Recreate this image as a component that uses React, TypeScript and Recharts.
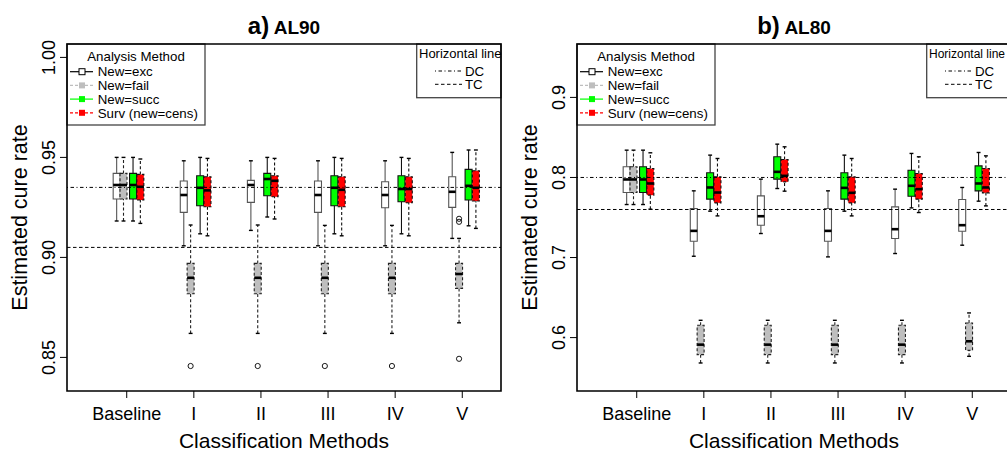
import React from 'react';
import {
  ComposedChart,
  XAxis,
  YAxis,
  ReferenceArea,
  ReferenceLine,
  Scatter,
  Customized,
} from 'recharts';

// ---------- data ----------
type Stats = [number, number, number, number, number]; // lower whisker, Q1, median, Q3, upper whisker

const categories = ['Baseline', 'I', 'II', 'III', 'IV', 'V'];
const categoryPositions = [1, 2, 3, 4, 5, 6];

// AL90
const al90Exc: Stats[] = [
  [0.9182, 0.9292, 0.9362, 0.942, 0.95],
  [0.9058, 0.9225, 0.9312, 0.9382, 0.9483],
  [0.9135, 0.9275, 0.9362, 0.9385, 0.9483],
  [0.9058, 0.9225, 0.9312, 0.9382, 0.9483],
  [0.9058, 0.9248, 0.9312, 0.9378, 0.9483],
  [0.9095, 0.925, 0.9328, 0.9403, 0.9525],
];
const al90Fail: Stats[] = [
  [0.9182, 0.9292, 0.9362, 0.942, 0.95],
  [0.862, 0.8818, 0.8898, 0.897, 0.9162],
  [0.862, 0.8818, 0.8898, 0.897, 0.9162],
  [0.862, 0.8818, 0.8898, 0.897, 0.916],
  [0.862, 0.8818, 0.8898, 0.897, 0.916],
  [0.8673, 0.8845, 0.8917, 0.897, 0.9095],
];
const al90Succ: Stats[] = [
  [0.9182, 0.9292, 0.9362, 0.942, 0.95],
  [0.9118, 0.9258, 0.9348, 0.9408, 0.95],
  [0.9202, 0.9308, 0.9392, 0.942, 0.95],
  [0.9118, 0.9258, 0.9348, 0.9408, 0.95],
  [0.9118, 0.9278, 0.9342, 0.9408, 0.95],
  [0.9158, 0.9287, 0.9358, 0.944, 0.9537],
];
const al90Cens: Stats[] = [
  [0.917, 0.9287, 0.9353, 0.9415, 0.9492],
  [0.9108, 0.9253, 0.9335, 0.9403, 0.9495],
  [0.9192, 0.9303, 0.9383, 0.9408, 0.9495],
  [0.9108, 0.9253, 0.9338, 0.9403, 0.9495],
  [0.9108, 0.9273, 0.9342, 0.9403, 0.9495],
  [0.9145, 0.9282, 0.9348, 0.9433, 0.9537],
];
// outlying estimates of New=fail, per category
const al90FailOutliers: number[][] = [[], [0.8457], [0.8457], [0.8457], [0.8457], [0.8493, 0.9178, 0.9193]];
const al90Dc = 0.935;
const al90Tc = 0.905;

// AL80
const al80Exc: Stats[] = [
  [0.7662, 0.7812, 0.7975, 0.8133, 0.8341],
  [0.7016, 0.7204, 0.7333, 0.7612, 0.7833],
  [0.73, 0.7404, 0.7516, 0.777, 0.7979],
  [0.7008, 0.7204, 0.7333, 0.7612, 0.7833],
  [0.705, 0.7237, 0.7354, 0.7633, 0.7854],
  [0.7154, 0.7329, 0.7404, 0.7725, 0.7875],
];
const al80Fail: Stats[] = [
  [0.7662, 0.7812, 0.7975, 0.8133, 0.8341],
  [0.5683, 0.5787, 0.5912, 0.6154, 0.6216],
  [0.5683, 0.5787, 0.5912, 0.6154, 0.6216],
  [0.5683, 0.5787, 0.5912, 0.6154, 0.6216],
  [0.5683, 0.5787, 0.5912, 0.6154, 0.6216],
  [0.5766, 0.5841, 0.5954, 0.6183, 0.6308],
];
const al80Succ: Stats[] = [
  [0.7662, 0.7812, 0.7975, 0.8133, 0.8341],
  [0.7579, 0.7729, 0.7875, 0.8058, 0.8279],
  [0.7862, 0.7979, 0.807, 0.8258, 0.8416],
  [0.7579, 0.7729, 0.787, 0.8058, 0.8279],
  [0.762, 0.7766, 0.7896, 0.8091, 0.83],
  [0.7704, 0.7833, 0.7925, 0.8145, 0.8312],
];
const al80Cens: Stats[] = [
  [0.7604, 0.7779, 0.7925, 0.8112, 0.8308],
  [0.752, 0.7683, 0.7812, 0.8008, 0.8237],
  [0.7829, 0.7945, 0.802, 0.8225, 0.8383],
  [0.752, 0.7683, 0.7808, 0.8008, 0.8237],
  [0.7562, 0.7729, 0.7854, 0.805, 0.8258],
  [0.7645, 0.7808, 0.7875, 0.8112, 0.827],
];
const al80FailOutliers: number[][] = [[], [], [], [], [], []];
const al80Dc = 0.8;
const al80Tc = 0.76;

const al90YTicks = [0.85, 0.9, 0.95, 1.0];
const al80YTicks = [0.6, 0.7, 0.8, 0.9];

// ---------- styling ----------
const FONT = '"Liberation Sans", Arial, Helvetica, sans-serif';
const X_DOMAIN: [number, number] = [0.11, 6.577];
const BOX_HALF = 0.052;
const CAP_HALF = 0.029;
const DASH = '3 2.2';
const DOTDASH = '1 2.5 3.5 2.5';
const TC_DASH = '3.5 2.5';

interface SeriesStyle {
  label: string;
  offset: number;
  fill: string;
  stroke: string;
  whisker: string;
  dash?: string;
  legendLine: string;
  legendDash?: string;
  markFill: string;
  markStroke: string;
}

const seriesStyles: SeriesStyle[] = [
  { label: 'New=exc', offset: -0.15, fill: '#ffffff', stroke: '#555555', whisker: '#555555', legendLine: '#000000', markFill: '#ffffff', markStroke: '#000000' },
  { label: 'New=fail', offset: -0.048, fill: '#bebebe', stroke: '#222222', whisker: '#222222', dash: DASH, legendLine: '#bebebe', legendDash: '3 2', markFill: '#bebebe', markStroke: 'none' },
  { label: 'New=succ', offset: 0.094, fill: '#00ff00', stroke: '#111111', whisker: '#111111', legendLine: '#00ff00', markFill: '#00ff00', markStroke: 'none' },
  { label: 'Surv (new=cens)', offset: 0.203, fill: '#ff0000', stroke: '#111111', whisker: '#111111', dash: DASH, legendLine: '#ff0000', legendDash: '3 2', markFill: '#ff0000', markStroke: 'none' },
];

function boxElements(stats: Stats, center: number, st: SeriesStyle, id: string) {
  const [lo, q1, med, q3, hi] = stats;
  const x1 = center - BOX_HALF;
  const x2 = center + BOX_HALF;
  return [
    <ReferenceLine key={id + '-wlo'} segment={[{ x: center, y: lo }, { x: center, y: q1 }]} stroke={st.whisker} strokeWidth={1.1} strokeDasharray={st.dash} ifOverflow="visible" />,
    <ReferenceLine key={id + '-whi'} segment={[{ x: center, y: q3 }, { x: center, y: hi }]} stroke={st.whisker} strokeWidth={1.1} strokeDasharray={st.dash} ifOverflow="visible" />,
    <ReferenceLine key={id + '-clo'} segment={[{ x: center - CAP_HALF, y: lo }, { x: center + CAP_HALF, y: lo }]} stroke="#000" strokeWidth={1.4} ifOverflow="visible" />,
    <ReferenceLine key={id + '-chi'} segment={[{ x: center - CAP_HALF, y: hi }, { x: center + CAP_HALF, y: hi }]} stroke="#000" strokeWidth={1.4} ifOverflow="visible" />,
    <ReferenceArea key={id + '-box'} x1={x1} x2={x2} y1={q1} y2={q3} fill={st.fill} fillOpacity={1} stroke={st.stroke} strokeWidth={1.1} strokeDasharray={st.dash} ifOverflow="visible" />,
    <ReferenceLine key={id + '-med'} segment={[{ x: x1, y: med }, { x: x2, y: med }]} stroke="#000" strokeWidth={2.6} ifOverflow="visible" />,
  ];
}

interface PanelProps {
  tag: string;
  name: string;
  width: number;
  yAxisWidth: number;
  rightMargin: number;
  yDomain: [number, number];
  yTicks: number[];
  digits: number;
  series: Stats[][];
  outliers: number[][];
  dc: number;
  tc: number;
  lineLegendTitleSize: number;
}

const TOP = 44;
const PLOT_BOTTOM = 391;
const HEIGHT = 452;

function Panel(p: PanelProps) {
  const plotLeft = p.yAxisWidth;
  const plotRight = p.width - p.rightMargin;
  const plotMid = (plotLeft + plotRight) / 2;

  const outlierPoints = p.outliers.flatMap((vals, i) =>
    vals.map((v) => ({ x: categoryPositions[i] + seriesStyles[1].offset, y: v })),
  );

  const xTick = (props: any) => (
    <text x={props.x} y={props.y + 20} textAnchor="middle" fontFamily={FONT} fontSize={18} fill="#000">
      {categories[categoryPositions.indexOf(props.payload.value)]}
    </text>
  );
  const yTick = (props: any) => (
    <text
      x={props.x}
      y={props.y}
      transform={`rotate(-90 ${props.x} ${props.y})`}
      textAnchor="middle"
      fontFamily={FONT}
      fontSize={18}
      fill="#000"
    >
      {Number(props.payload.value).toFixed(p.digits)}
    </text>
  );

  const legendW = 138;
  const legendH = 81;
  const hlLeft = plotRight - 84.3;

  const overlay = () => (
    <g fontFamily={FONT} fill="#000">
      {/* panel title */}
      <text x={plotMid} y={34} textAnchor="middle" fontWeight="bold">
        <tspan fontSize={24}>{p.tag}</tspan>
        <tspan fontSize={19}> {p.name}</tspan>
      </text>
      {/* axis titles */}
      <text x={plotMid} y={447.5} textAnchor="middle" fontSize={21}>Classification Methods</text>
      <text
        x={plotLeft - 40}
        y={217.5}
        transform={`rotate(-90 ${plotLeft - 40} 217.5)`}
        textAnchor="middle"
        fontSize={21.5}
      >
        Estimated cure rate
      </text>
      {/* analysis method legend */}
      <rect x={plotLeft} y={TOP} width={legendW} height={legendH} fill="#fff" stroke="#444" strokeWidth={1.3} />
      <text x={plotLeft + legendW / 2} y={TOP + 16.7} textAnchor="middle" fontSize={13.3}>Analysis Method</text>
      {seriesStyles.map((st, i) => {
        const cy = TOP + 27.7 + i * 13.7;
        return (
          <g key={st.label}>
            <line x1={plotLeft + 3} x2={plotLeft + 26} y1={cy} y2={cy} stroke={st.legendLine} strokeWidth={1.2} strokeDasharray={st.legendDash} />
            <rect x={plotLeft + 12} y={cy - 3} width={6} height={6} fill={st.markFill} stroke={st.markStroke} strokeWidth={1} />
            <text x={plotLeft + 30.7} y={cy + 4.7} fontSize={13.3}>{st.label}</text>
          </g>
        );
      })}
      {/* horizontal line legend */}
      <rect x={hlLeft} y={TOP} width={plotRight - hlLeft} height={53.7} fill="#fff" stroke="#444" strokeWidth={1.3} />
      <text x={hlLeft + 2.3} y={TOP + 14} fontSize={p.lineLegendTitleSize}>Horizontal line</text>
      <line x1={hlLeft + 18.3} x2={hlLeft + 45.3} y1={TOP + 27} y2={TOP + 27} stroke="#000" strokeDasharray={DOTDASH} />
      <text x={hlLeft + 48.3} y={TOP + 31.7} fontSize={13.3}>DC</text>
      <line x1={hlLeft + 18.3} x2={hlLeft + 45.3} y1={TOP + 40.3} y2={TOP + 40.3} stroke="#000" strokeDasharray={TC_DASH} />
      <text x={hlLeft + 48.3} y={TOP + 45} fontSize={13.3}>TC</text>
    </g>
  );

  return (
    <ComposedChart
      width={p.width}
      height={HEIGHT}
      margin={{ top: TOP, right: p.rightMargin, bottom: 0, left: 0 }}
    >
      <XAxis
        type="number"
        dataKey="x"
        domain={X_DOMAIN}
        ticks={categoryPositions}
        allowDataOverflow
        interval={0}
        height={HEIGHT - PLOT_BOTTOM}
        tickSize={7}
        tickMargin={2}
        axisLine={false}
        stroke="#000"
        tick={xTick}
      />
      <YAxis
        type="number"
        dataKey="y"
        domain={p.yDomain}
        ticks={p.yTicks}
        allowDataOverflow
        interval={0}
        width={p.yAxisWidth}
        tickSize={7}
        tickMargin={4.5}
        axisLine={false}
        stroke="#000"
        tick={yTick}
      />
      <ReferenceLine y={p.dc} stroke="#000" strokeWidth={1} strokeDasharray={DOTDASH} ifOverflow="visible" />
      <ReferenceLine y={p.tc} stroke="#000" strokeWidth={1} strokeDasharray={TC_DASH} ifOverflow="visible" />
      {p.series.flatMap((stats, s) =>
        stats.map((st, i) =>
          boxElements(st, categoryPositions[i] + seriesStyles[s].offset, seriesStyles[s], `${p.name}-${s}-${i}`),
        ),
      )}
      <Scatter
        data={outlierPoints}
        isAnimationActive={false}
        shape={(props: any) => (
          <circle cx={props.cx} cy={props.cy} r={2.6} fill="none" stroke="#000" strokeWidth={0.9} />
        )}
      />
      {/* plot frame */}
      <ReferenceArea
        x1={X_DOMAIN[0]}
        x2={X_DOMAIN[1]}
        y1={p.yDomain[0]}
        y2={p.yDomain[1]}
        fill="none"
        stroke="#000"
        strokeWidth={1.6}
        ifOverflow="visible"
      />
      <Customized component={overlay} />
    </ComposedChart>
  );
}

export default function App() {
  return (
    <div
      style={{
        position: 'absolute',
        left: 0,
        top: 0,
        width: 1007,
        height: 452,
        overflow: 'hidden',
        background: '#fff',
      }}
    >
      <div style={{ position: 'absolute', left: 0, top: 0 }}>
        <Panel
          tag="a)"
          name="AL90"
          width={503}
          yAxisWidth={67}
          rightMargin={2}
          yDomain={[0.8332, 1.0067]}
          yTicks={al90YTicks}
          digits={2}
          series={[al90Exc, al90Fail, al90Succ, al90Cens]}
          outliers={al90FailOutliers}
          dc={al90Dc}
          tc={al90Tc}
          lineLegendTitleSize={13}
        />
      </div>
      <div style={{ position: 'absolute', left: 500, top: 0 }}>
        <Panel
          tag="b)"
          name="AL80"
          width={520}
          yAxisWidth={77}
          rightMargin={9}
          yDomain={[0.5333, 0.9667]}
          yTicks={al80YTicks}
          digits={1}
          series={[al80Exc, al80Fail, al80Succ, al80Cens]}
          outliers={al80FailOutliers}
          dc={al80Dc}
          tc={al80Tc}
          lineLegendTitleSize={12}
        />
      </div>
    </div>
  );
}
